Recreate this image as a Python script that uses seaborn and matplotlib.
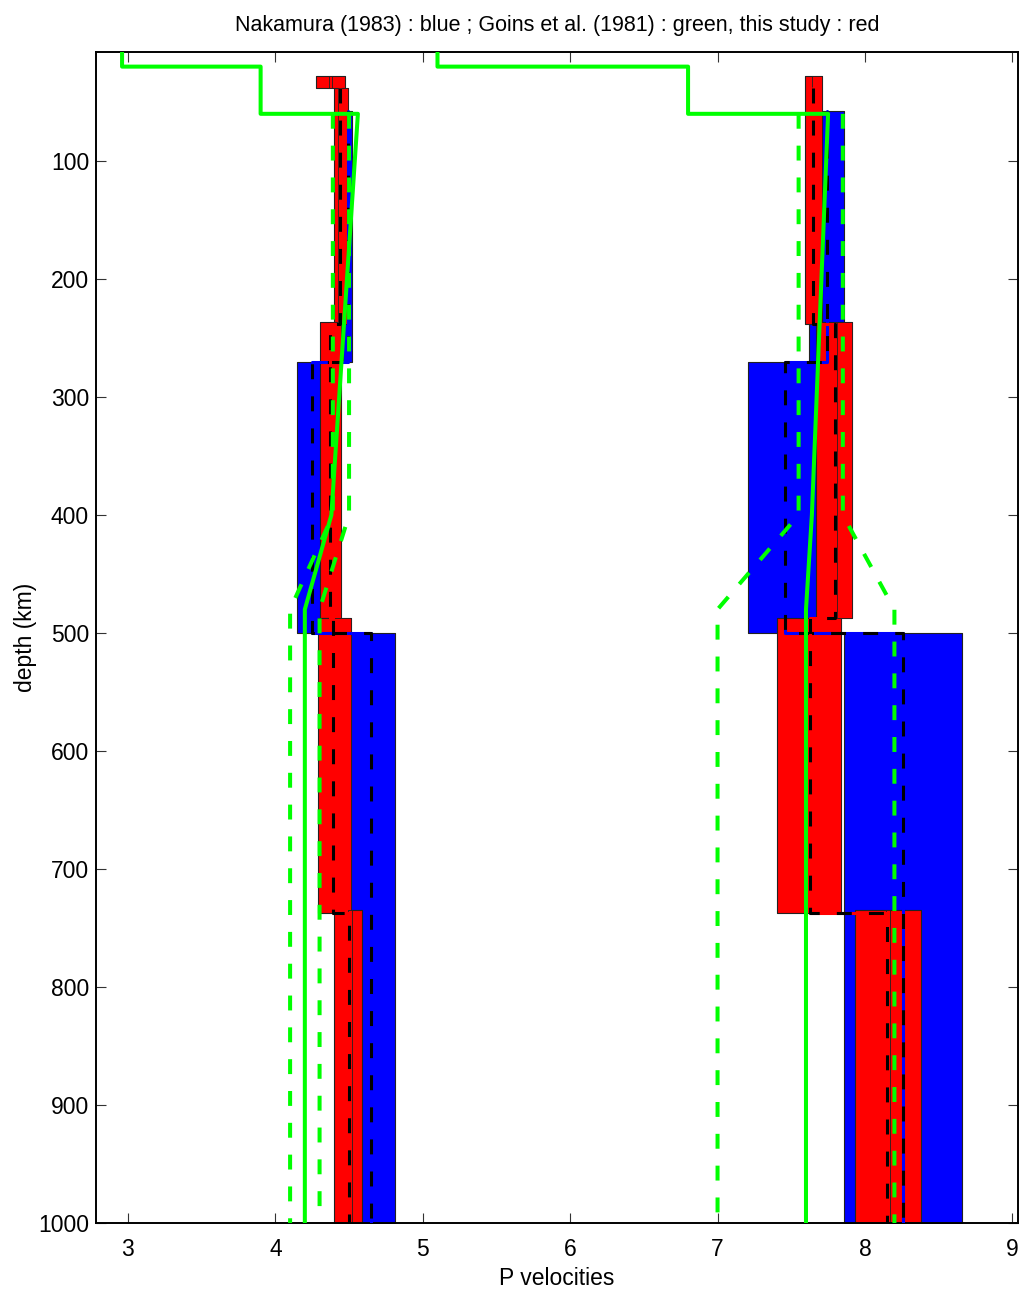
import numpy as np
import pandas as pd
import matplotlib
matplotlib.use("Agg")
import matplotlib.pyplot as plt
import seaborn as sns

# ---------------- data ----------------
# Nakamura (1983) layers : blue
nak_top = [58, 270, 500]
nak_bot = [270, 500, 1000]
nak_vp = [7.74, 7.46, 8.26]
nak_vp_err = [0.12, 0.25, 0.40]
nak_vs = [4.49, 4.25, 4.65]
nak_vs_err = [0.03, 0.10, 0.16]

# this study : red
red_vp_top = [28, 236, 487, 735]
red_vs_top = [38, 236, 487, 735]
red_bot = [238, 487, 737, 1000]
red_vp_lo = [7.59, 7.67, 7.40, 7.93]
red_vp_hi = [7.71, 7.91, 7.84, 8.38]
red_vp_in_lo = [7.64, 7.81, 7.63, 8.14]
red_vp_in_hi = [7.71, 7.91, 7.84, 8.17]
red_vs_lo = [4.40, 4.30, 4.29, 4.40]
red_vs_hi = [4.49, 4.445, 4.51, 4.59]
red_vs_in_lo = [4.425, 4.377, 4.39, 4.493]
red_vs_in_hi = [4.49, 4.445, 4.51, 4.52]
red_crust_top, red_crust_bot = 28, 38
red_crust_vs = [4.275, 4.47]
red_crust_vs_in = [4.364, 4.384]
red_vp_mean = [7.65, 7.80, 7.63, 8.15]
red_vs_mean = [4.44, 4.37, 4.39, 4.50]

# Goins et al. (1981) : green
goins_depth = [0, 20, 20, 60, 60, 400, 480, 1000]
goins_vp = [5.10, 5.10, 6.80, 6.80, 7.75, 7.64, 7.60, 7.60]
goins_vs = [2.96, 2.96, 3.90, 3.90, 4.56, 4.38, 4.20, 4.20]
goins_b_depth = [60, 400, 480, 1000]
goins_vp_lo = [7.55, 7.55, 7.00, 7.00]
goins_vp_hi = [7.85, 7.85, 8.20, 8.20]
goins_vs_lo = [4.39, 4.39, 4.10, 4.10]
goins_vs_hi = [4.50, 4.50, 4.30, 4.30]

x_ticks = [3, 4, 5, 6, 7, 8, 9]
y_ticks = [100, 200, 300, 400, 500, 600, 700, 800, 900, 1000]

# ---------------- style ----------------
sns.set_theme(style="ticks")
plt.rcParams["font.family"] = ["Liberation Sans", "DejaVu Sans"]
plt.rcParams["text.color"] = "black"
plt.rcParams["axes.labelcolor"] = "black"
plt.rcParams["xtick.color"] = "black"
plt.rcParams["ytick.color"] = "black"

fig = plt.figure(figsize=(10.21, 12.90), dpi=100)
ax = fig.add_axes([0.0940, 0.0519, 0.9030, 0.9078])

BLUE, RED, GREEN = "#0000ff", "#ff0000", "#00ff00"


def rect(lo, hi, top, bot, color, z, lw=0.8):
    ax.fill_betweenx([top, bot], lo, hi, facecolor=color, edgecolor="#222222",
                     linewidth=lw, zorder=z)


def step(tops, bots, vals):
    xs, ys = [], []
    for t, b, v in zip(tops, bots, vals):
        xs += [v, v]
        ys += [t, b]
    return xs, ys


def line(xs, ys, color, lw, dash=None, z=3):
    kw = {}
    if dash is not None:
        kw["linestyle"] = (0, dash)
    sns.lineplot(x=xs, y=ys, sort=False, estimator=None, color=color, lw=lw,
                 ax=ax, zorder=z, **kw)

# blue ranges
for t, b, v, e in zip(nak_top, nak_bot, nak_vp, nak_vp_err):
    rect(v - e, v + e, t, b, BLUE, 1)
for t, b, v, e in zip(nak_top, nak_bot, nak_vs, nak_vs_err):
    rect(v - e, v + e, t, b, BLUE, 1)

# red ranges
for i in range(4):
    rect(red_vp_lo[i], red_vp_hi[i], red_vp_top[i], red_bot[i], RED, 2)
    rect(red_vp_in_lo[i], red_vp_in_hi[i], red_vp_top[i], red_bot[i], RED, 2.1, lw=0.6)
    rect(red_vs_lo[i], red_vs_hi[i], red_vs_top[i], red_bot[i], RED, 2)
    rect(red_vs_in_lo[i], red_vs_in_hi[i], red_vs_top[i], red_bot[i], RED, 2.1, lw=0.6)
rect(red_crust_vs[0], red_crust_vs[1], red_crust_top, red_crust_bot, RED, 2)
rect(red_crust_vs_in[0], red_crust_vs_in[1], red_crust_top, red_crust_bot, RED, 2.1, lw=0.6)

# mean models (colored line with black dashes)
for vals in (nak_vp, nak_vs):
    xs, ys = step(nak_top, nak_bot, vals)
    line(xs, ys, BLUE, 2.2, z=3)
    line(xs, ys, "black", 2.2, dash=(4.9, 5.6), z=3.1)
for vals in (red_vp_mean, red_vs_mean):
    xs, ys = step([38, 238, 487, 737], red_bot, vals)
    line(xs, ys, RED, 2.2, z=4)
    line(xs, ys, "black", 2.2, dash=(4.9, 5.6), z=4.1)

# Goins
line(goins_vp, goins_depth, GREEN, 2.9, z=5)
line(goins_vs, goins_depth, GREEN, 2.9, z=5)
for vals in (goins_vp_lo, goins_vp_hi, goins_vs_lo, goins_vs_hi):
    line(vals, goins_b_depth, GREEN, 2.9, dash=(3.7, 4.2), z=5)

# ---------------- axes ----------------
ax.set_xlim(2.783, 9.038)
ax.set_ylim(1000, 7.6)
ax.set_xticks(x_ticks)
ax.set_yticks(y_ticks)
ax.set_xticklabels([str(v) for v in x_ticks])
ax.set_yticklabels([str(v) for v in y_ticks])
ax.tick_params(direction="in", length=7, width=0.8, color="#333333",
               top=True, right=True, labelsize=16.5, pad=11, labelcolor="black")
ax.tick_params(axis="y", pad=5)
for s in ax.spines.values():
    s.set_linewidth(1.4)
    s.set_color("black")
ax.set_xlabel("P velocities", fontsize=16.5, labelpad=4)
ax.set_ylabel("depth (km)", fontsize=16.5, labelpad=1)
ax.set_title("Nakamura (1983) : blue ; Goins et al. (1981) : green, this study : red",
             fontsize=15.5, pad=15, color="black")
ax.grid(False)

fig.savefig("out.png", dpi=100)
